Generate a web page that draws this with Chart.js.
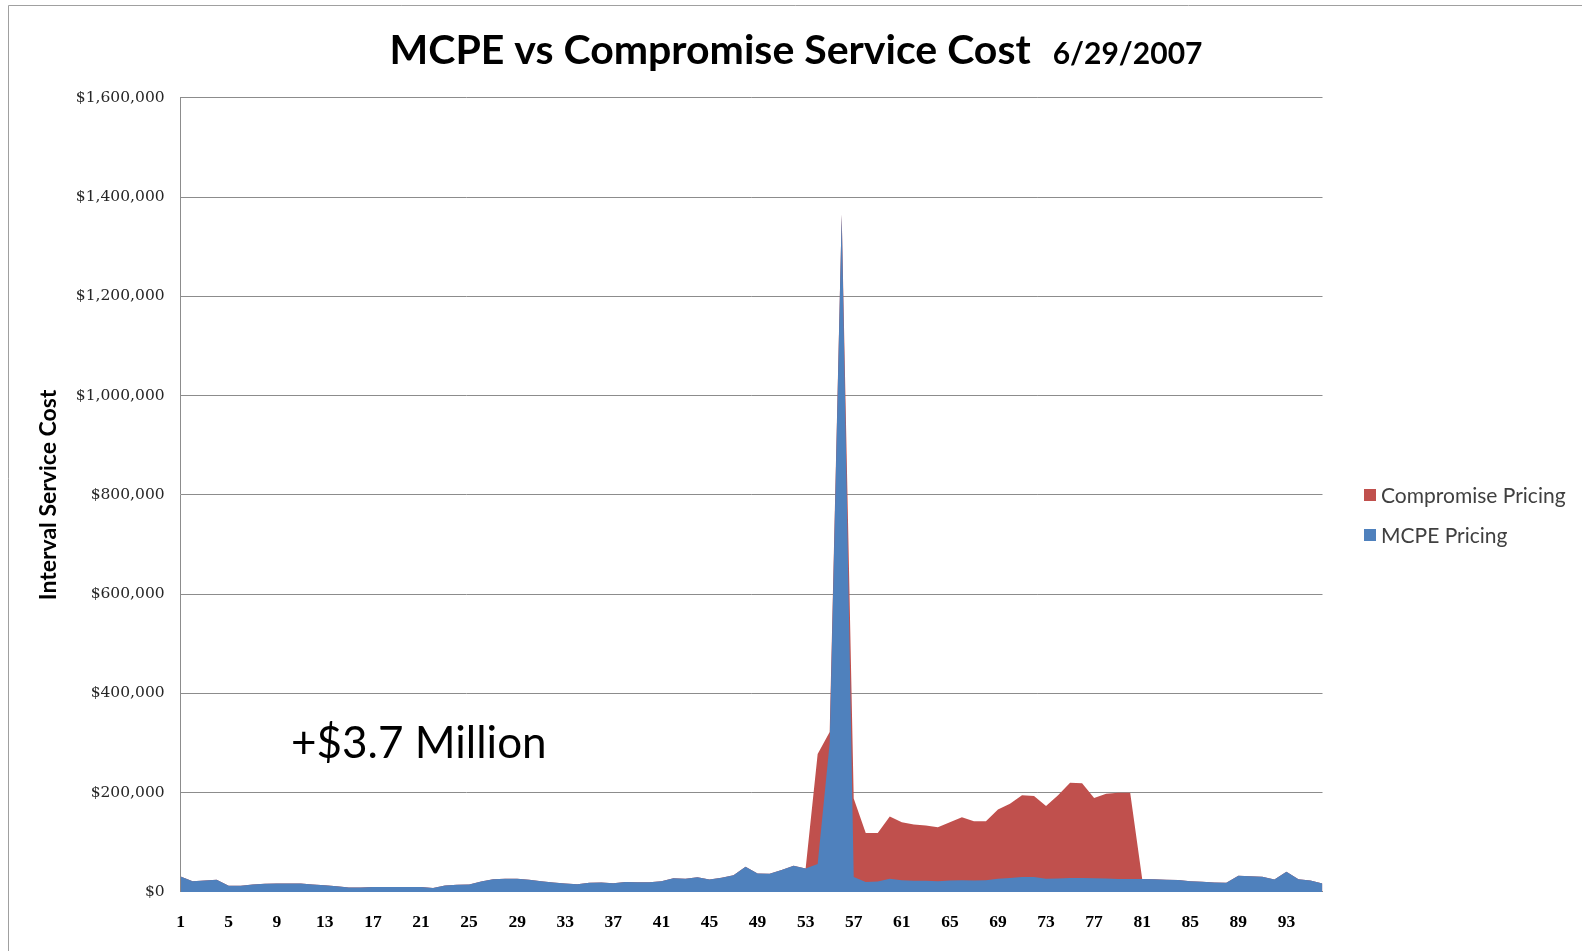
<!DOCTYPE html>
<html>
<head>
<meta charset="utf-8">
<title>MCPE vs Compromise Service Cost</title>
<script src="https://cdn.jsdelivr.net/npm/chart.js@4/dist/chart.umd.min.js"></script>
<style>
  html, body { margin: 0; padding: 0; background: #fff; }
  #wrap { width: 1582px; height: 951px; position: relative; }
</style>
</head>
<body>
<div id="wrap"><canvas id="costChart" width="1582" height="951"></canvas></div>
<script>
// 15-minute intervals for the day
const intervals = [
  '1','2','3','4','5','6','7','8','9','10','11','12','13','14','15','16',
  '17','18','19','20','21','22','23','24','25','26','27','28','29','30','31','32',
  '33','34','35','36','37','38','39','40','41','42','43','44','45','46','47','48',
  '49','50','51','52','53','54','55','56','57','58','59','60','61','62','63','64',
  '65','66','67','68','69','70','71','72','73','74','75','76','77','78','79','80',
  '81','82','83','84','85','86','87','88','89','90','91','92','93','94','95','96'
];

const mcpePricing = [
  31000, 21600, 22900, 24300, 12200, 12200, 14800, 16200, 16900, 16900, 16900, 14800, 13500, 11500, 8800, 8800,
  10100, 10100, 10100, 10100, 10100, 8100, 12800, 14200, 14800, 20900, 25600, 26300, 26300, 24300, 21600, 18900,
  16900, 15500, 18200, 18900, 17500, 20200, 19600, 19600, 21600, 27700, 26300, 29700, 25000, 28400, 33700, 50600,
  37100, 36500, 43900, 52600, 47000, 56000, 300000, 1365000, 30000, 20000, 21000, 26400, 23700, 22400, 22400, 21700,
  23000, 23700, 23000, 23700, 26400, 27800, 29800, 29800, 26400, 27100, 27800, 27800, 27500, 27000, 26000, 26000,
  26000, 25500, 24500, 24000, 21600, 20300, 18900, 18200, 32400, 31700, 30400, 25000, 40500, 25700, 23000, 16900
];

const compromisePricing = [
  31000, 21600, 22900, 24300, 12200, 12200, 14800, 16200, 16900, 16900, 16900, 14800, 13500, 11500, 8800, 8800,
  10100, 10100, 10100, 10100, 10100, 8100, 12800, 14200, 14800, 20900, 25600, 26300, 26300, 24300, 21600, 18900,
  16900, 15500, 18200, 18900, 17500, 20200, 19600, 19600, 21600, 27700, 26300, 29700, 25000, 28400, 33700, 50600,
  37100, 36500, 43900, 52600, 47000, 278000, 322000, 1365000, 188000, 118600, 118600, 151900, 140300, 135600, 133600, 130200,
  140300, 150500, 142400, 142400, 166100, 177600, 194600, 193200, 172900, 194600, 219700, 219000, 189200, 198000, 200000, 200000,
  26000, 25500, 24500, 24000, 21600, 20300, 18900, 18200, 32400, 31700, 30400, 25000, 40500, 25700, 23000, 16900
];

const seriesNames = ['Compromise Pricing', 'MCPE Pricing'];
const seriesColors = ['#C0504D', '#4F81BD'];

const titleText = 'MCPE vs Compromise Service Cost';
const dateText = '6/29/2007';
const noteText = '+$3.7 Million';

const money = v => '$' + Number(v).toLocaleString('en-US');

// frame, title, note and legend drawn straight onto the canvas
const decorPlugin = {
  id: 'decor',
  beforeDraw(chart) {
    const ctx = chart.ctx;
    ctx.save();
    ctx.fillStyle = '#fff';
    ctx.fillRect(0, 0, chart.width, chart.height);
    ctx.strokeStyle = '#a0a0a0';
    ctx.lineWidth = 1;
    ctx.beginPath();
    ctx.moveTo(8.5, chart.height);
    ctx.lineTo(8.5, 5.5);
    ctx.lineTo(chart.width, 5.5);
    ctx.stroke();
    ctx.restore();
  },
  afterDraw(chart) {
    const ctx = chart.ctx;
    ctx.save();
    ctx.textBaseline = 'alphabetic';
    ctx.fillStyle = '#000';

    // title with the date beside it
    const titleFont = 'bold 41px Lato';
    const dateFont = 'bold 30px Lato';
    ctx.font = titleFont;
    const w1 = ctx.measureText(titleText).width;
    ctx.font = dateFont;
    const w2 = ctx.measureText(dateText).width;
    const gap = 22;
    const x = 796 - (w1 + gap + w2) / 2;
    ctx.textAlign = 'left';
    ctx.font = titleFont;
    ctx.fillText(titleText, x, 64);
    ctx.font = dateFont;
    ctx.fillText(dateText, x + w1 + gap, 64);

    // savings note
    ctx.font = '44px Lato';
    ctx.fillText(noteText, 291, 758);

    // legend
    ctx.font = '21px Lato';
    ctx.textBaseline = 'middle';
    const rows = [495, 535];
    seriesNames.forEach((name, i) => {
      ctx.fillStyle = seriesColors[i];
      ctx.fillRect(1364, rows[i] - 6, 12, 12);
      ctx.fillStyle = '#404040';
      ctx.fillText(name, 1381, rows[i] + 1);
    });
    ctx.restore();
  }
};

const ctx = document.getElementById('costChart').getContext('2d');
new Chart(ctx, {
  type: 'line',
  data: {
    labels: intervals,
    datasets: [
      {
        // first dataset is painted last, so MCPE sits in front
        label: seriesNames[1],
        data: mcpePricing,
        backgroundColor: seriesColors[1],
        borderColor: 'rgba(0,0,0,0)',
        borderWidth: 0,
        fill: 'origin',
        pointRadius: 0,
        tension: 0
      },
      {
        label: seriesNames[0],
        data: compromisePricing,
        backgroundColor: seriesColors[0],
        borderColor: 'rgba(0,0,0,0)',
        borderWidth: 0,
        fill: 'origin',
        pointRadius: 0,
        tension: 0
      }
    ]
  },
  options: {
    responsive: false,
    animation: false,
    devicePixelRatio: 1,
    layout: { padding: { left: 0, right: 259.5, top: 97.9, bottom: 0 } },
    plugins: {
      legend: { display: false },
      title: { display: false },
      tooltip: { enabled: false }
    },
    scales: {
      x: {
        offset: false,
        grid: { display: false, drawTicks: false },
        border: { display: true, color: '#8c8c8c', width: 1 },
        ticks: {
          autoSkip: false,
          maxRotation: 0,
          padding: 20,
          color: '#000',
          font: { family: 'Liberation Serif', size: 17.5, weight: 'bold' },
          callback: function (val, index) {
            return index % 4 === 0 ? this.getLabelForValue(val) : '';
          }
        },
        afterFit: scale => { scale.height = 59.1; }
      },
      y: {
        min: 0,
        max: 1600000,
        grid: { color: '#8c8c8c', lineWidth: 1, drawTicks: false },
        border: { display: true, color: '#8c8c8c', width: 1 },
        ticks: {
          stepSize: 200000,
          padding: 16,
          color: '#262626',
          font: { family: 'DejaVu Serif', size: 15.5 },
          callback: v => money(v)
        },
        title: {
          display: true,
          text: 'Interval Service Cost',
          color: '#000',
          font: { family: 'Lato', size: 23, weight: 'bold' },
          padding: { top: 35, bottom: 0 }
        },
        afterFit: scale => { scale.width = 180.6; }
      }
    }
  },
  plugins: [decorPlugin]
});
</script>
</body>
</html>
